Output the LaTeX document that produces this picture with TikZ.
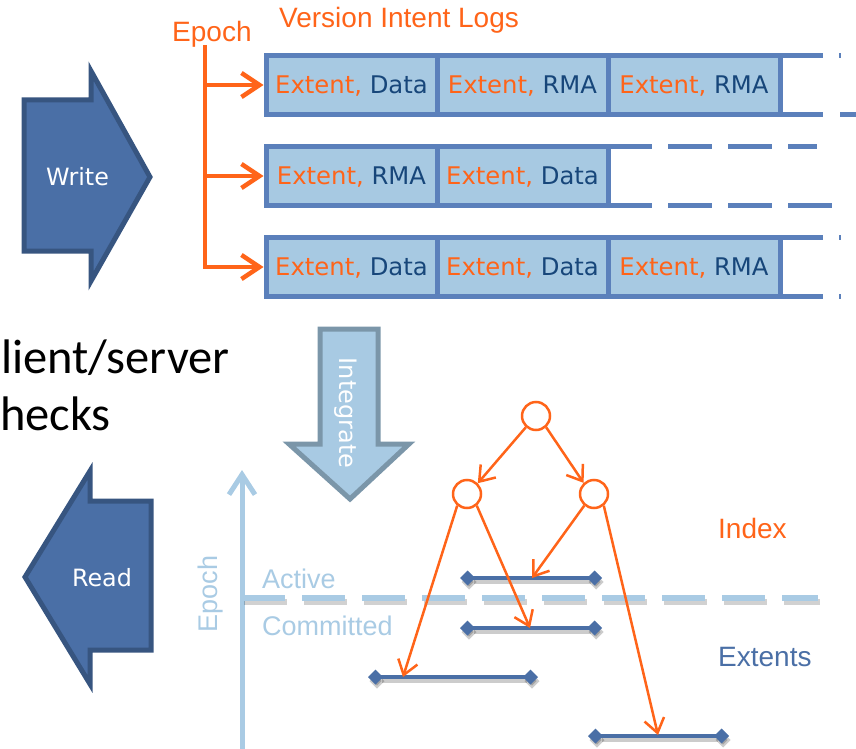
\documentclass[tikz,border=0pt]{standalone}
\usepackage{fontspec}
\setmainfont{Liberation Sans}
\newfontfamily\dejavu{DejaVu Sans}
\newfontfamily\carlito{Carlito}
\usetikzlibrary{arrows.meta}

\definecolor{idxorange}{HTML}{FF6419}
\definecolor{navytext}{HTML}{17467A}
\definecolor{cellfill}{HTML}{A7C9E2}
\definecolor{cellline}{HTML}{5B80BB}
\definecolor{opfill}{HTML}{4A6FA6}
\definecolor{opline}{HTML}{375580}
\definecolor{intfill}{HTML}{A8CAE3}
\definecolor{intline}{HTML}{7B96A9}
\definecolor{axisblue}{HTML}{A9CBE4}
\definecolor{extblue}{HTML}{4A6FA6}

\newcommand\fsz[1]{\fontsize{#1}{#1}\selectfont}
\newcommand\ext[1]{\textcolor{idxorange}{Extent,} \textcolor{navytext}{#1}}

\begin{document}
\begin{tikzpicture}[x=1pt,y=-1pt,
  cell/.style={draw=cellline, fill=cellfill, line width=5pt, minimum height=59pt,
    inner sep=0pt, text height=17.5pt, text depth=0pt, font=\dejavu\fsz{24.3}},
  logline/.style={draw=cellline, line width=5pt},
  opshape/.style={draw=opline, fill=opfill, line width=5pt, line join=miter},
  optext/.style={text=white, font=\dejavu\fsz{23.8}, inner sep=0pt,
    text height=17pt, text depth=0pt},
  intshape/.style={draw=intline, fill=intfill, line width=5pt, line join=miter},
  epocharrow/.style={draw=idxorange, line width=4.5pt,
    arrows={-Straight Barb[length=18pt,width=24pt]}},
  treenode/.style={circle, draw=idxorange, fill=white, line width=2.5pt,
    minimum size=28pt, inner sep=0pt},
  treeedge/.style={draw=idxorange, line width=2.5pt,
    arrows={-Straight Barb[length=14pt,width=20pt]}},
  ext/.style={draw=extblue, line width=4pt,
    arrows={Diamond[length=15pt,width=15pt]-Diamond[length=15pt,width=15pt]}},
  extshadow/.style={draw=black, opacity=0.2, line width=4pt,
    arrows={Diamond[length=15pt,width=15pt]-Diamond[length=15pt,width=15pt]}},
  lbl/.style={font=\fsz{27}, inner sep=0pt},
]
\useasboundingbox (0,0) rectangle (856,749);

% ---------------- Write / Read operation arrows ----------------
\draw[opshape] (24,100) -- (91,100) -- (91,71) -- (150,177) -- (91,281)
  -- (91,251) -- (24,251) -- cycle;
\node[optext] (write) at (77.5,177) {Write};

\draw[opshape] (151,501) -- (90,501) -- (90,471) -- (25,577) -- (90,684)
  -- (90,650) -- (151,650) -- cycle;
\node[optext] (read) at (102,578) {Read};

% ---------------- Version intent logs ----------------
\node[lbl, font=\fsz{28}, text=idxorange, anchor=base west] (title) at (279,28) {Version Intent Logs};
\node[lbl, font=\fsz{28}, text=idxorange, anchor=base west] (epochtop) at (172,42) {Epoch};

% row 1
\node[cell, minimum width=171pt] (c11) at (351.5,85) {\ext{Data}};
\node[cell, minimum width=171pt] (c12) at (522.5,85) {\ext{RMA}};
\node[cell, minimum width=172pt] (c13) at (694,85) {\ext{RMA}};
% row 2
\node[cell, minimum width=171pt] (c21) at (351.5,176) {\ext{RMA}};
\node[cell, minimum width=171pt] (c22) at (522.5,176) {\ext{Data}};
% row 3
\node[cell, minimum width=171pt] (c31) at (351.5,267) {\ext{Data}};
\node[cell, minimum width=171pt] (c32) at (522.5,267) {\ext{Data}};
\node[cell, minimum width=172pt] (c33) at (694,267) {\ext{RMA}};

% open ends of the logs
\draw[logline] (780,55.5) -- (823,55.5) (839,55.5) -- (841,55.5);
\draw[logline] (780,114.5) -- (823,114.5) (840,114.5) -- (856,114.5);
\draw[logline] (608,146.5) -- (652,146.5) (668,146.5) -- (712,146.5)
  (728,146.5) -- (772,146.5) (788,146.5) -- (817,146.5);
\draw[logline] (608,205.5) -- (652,205.5) (668,205.5) -- (712,205.5)
  (728,205.5) -- (772,205.5) (788,205.5) -- (832,205.5);
\draw[logline] (780,237.5) -- (823,237.5) (839,237.5) -- (841,237.5);
\draw[logline] (780,296.5) -- (823,296.5) (839,296.5) -- (841,296.5);

% epoch bracket
\coordinate (bt) at (205,45);
\draw[epocharrow, line join=miter] (bt) |- (c31.west);
\draw[epocharrow] (bt |- c11.west) -- (c11.west);
\draw[epocharrow] (bt |- c21.west) -- (c21.west);

% ---------------- client/server text ----------------
\node[font=\carlito\fsz{48.5}, anchor=base west, inner sep=0pt] (cs1) at (1,373) {lient/server};
\node[font=\carlito\fsz{48.5}, anchor=base west, inner sep=0pt] (cs2) at (0,430) {hecks};

% ---------------- Integrate arrow ----------------
\draw[intshape] (320,329) -- (378,329) -- (378,444) -- (409,444) -- (350,499)
  -- (289,444) -- (320,444) -- cycle;
\node[optext, font=\dejavu\fsz{24}, rotate=-90] (integrate) at (348,413) {Integrate};

% ---------------- Epoch axis ----------------
\coordinate (ax0) at (242,749);
\coordinate (ax1) at (242,470);
\draw[draw=axisblue, line width=5pt, arrows={-Straight Barb[length=20pt,width=26pt]}] (ax0) -- (ax1);
\node[lbl, text=axisblue, rotate=90, anchor=base] (epochaxis) at (217,594) {Epoch};

% active / committed boundary
\coordinate (d0) at (242,597.5);
\coordinate (d1) at (818,597.5);
\draw[draw=black, opacity=0.18, line width=6pt, dash pattern=on 43pt off 17pt]
  ([shift={(1.5,4)}]d0) -- ([shift={(1.5,4)}]d1);
\draw[draw=axisblue, line width=6pt, dash pattern=on 43pt off 17pt] (d0) -- (d1);
\node[lbl, text=axisblue, anchor=base west] (active) at (262,588) {Active};
\node[lbl, text=axisblue, anchor=base west] (committed) at (262,635) {Committed};

% ---------------- Extents ----------------
\coordinate (e1a) at (460,578); \coordinate (e1b) at (602,578);
\coordinate (e2a) at (460,628); \coordinate (e2b) at (602,628);
\coordinate (e3a) at (368,677); \coordinate (e3b) at (538,677);
\coordinate (e4a) at (588,736); \coordinate (e4b) at (729,736);
\foreach \a/\b in {e1a/e1b, e2a/e2b, e3a/e3b, e4a/e4b}{
  \draw[extshadow] ([shift={(1.5,4)}]\a) -- ([shift={(1.5,4)}]\b);
  \draw[ext] (\a) -- (\b);
}
\coordinate (t1) at (532,578);
\coordinate (t2) at (530,628);
\coordinate (t3) at (403,677);
\coordinate (t4) at (658,735);

\node[lbl, font=\fsz{28}, text=idxorange, anchor=base west] (index) at (718,538) {Index};
\node[lbl, font=\fsz{28}, text=extblue, anchor=base west] (extents) at (718,666) {Extents};

% ---------------- Index tree ----------------
\node[treenode] (root) at (536,416) {};
\node[treenode] (lc) at (467,494) {};
\node[treenode] (rc) at (594,494) {};

\draw[treeedge] (root.-132) -- (lc.45);
\draw[treeedge] (root.-48) -- (rc.133);
\draw[treeedge] (lc.-130) -- (t3);
\draw[treeedge] (lc.-50) -- (t2);
\draw[treeedge] (rc.-130) -- (t1);
\draw[treeedge] (rc.-50) -- (t4);
\end{tikzpicture}
\end{document}
